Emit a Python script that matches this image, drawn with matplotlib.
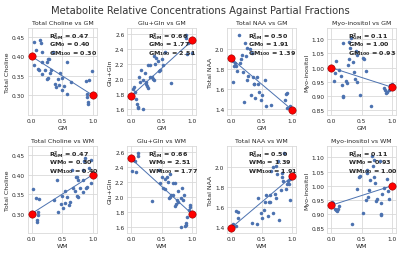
import numpy as np
import matplotlib
matplotlib.use("Agg")
import matplotlib.pyplot as plt

metabolites = ["Total Choline", "Glu+Gln", "Total NAA", "Myo-inositol"]

# GM fractions and concentrations (WM = 1 - GM)
cho_gm = [.03, .04, .075, .10, .115, .13, .155, .17, .16, .17, .22, .25, .26, .28, .25, .27, .29, .32, .35,
          .38, .40, .43, .45, .46, .49, .50, .52, .57, .58, .64, .88, .98, .925, .90, .90, .91, .91, .965]
cho_y = [.379, .436, .416, .369, .366, .442, .434, .411, .387, .354, .366, .387, .393, .393, .342, .346, .358,
         .366, .411, .330, .321, .342, .327, .358, .313, .346, .324, .305, .387, .334, .338, .362, .340, .305,
         .296, .283, .279, .302]

glu_gm = [.03, .045, .06, .085, .10, .11, .12, .14, .15, .17, .19, .19, .23, .24, .25, .27, .28, .28, .31, .31,
          .34, .36, .37, .38, .40, .41, .44, .45, .48, .50, .53, .55, .65, .89, .89, .92, .93, .96, .99]
glu_y = [1.86, 1.89, 1.82, 1.73, 1.66, 1.63, 1.61, 2.03, 1.96, 2.12, 1.98, 1.60, 2.08, 1.93, 1.96, 1.90, 1.88,
         2.18, 2.18, 2.03, 2.03, 2.00, 2.30, 1.98, 2.20, 2.27, 2.24, 2.11, 2.12, 2.26, 2.19, 2.36, 1.94, 2.54,
         2.58, 2.33, 2.47, 2.49, 2.34]

naa_gm = [.02, .035, .05, .035, .075, .09, .105, .135, .15, .165, .175, .19, .22, .235, .25, .27, .28, .27, .31,
          .32, .34, .36, .37, .38, .40, .43, .44, .46, .49, .51, .56, .57, .65, .89, .91, .88, .91, .965, .98]
naa_y = [1.90, 1.88, 1.83, 1.67, 1.86, 1.83, 1.78, 2.14, 1.86, 1.90, 1.94, 1.77, 1.47, 2.06, 1.93, 2.01, 1.73,
         1.69, 2.00, 1.54, 1.96, 1.72, 1.65, 1.65, 1.51, 1.72, 1.65, 1.57, 1.49, 1.54, 1.69, 1.43, 1.44, 1.55,
         1.56, 1.49, 1.41, 1.43, 1.41]

myo_gm = [.05, .075, .09, .13, .16, .18, .19, .19, .20, .25, .26, .28, .295, .295, .31, .335, .36, .375, .39,
          .41, .42, .43, .47, .53, .54, .57, .65, .87, .885, .90, .91, .94, .97, .99, .97]
myo_y = [.954, .980, 1.025, .990, .970, .940, .900, .896, 1.086, .954, .945, 1.008, 1.029, 1.092, 1.069, 1.105,
         1.019, .986, .959, 1.057, 1.046, .948, .904, 1.034, 1.031, .988, .864, .927, .919, .911, .913, .919,
         .939, .942, .931]

# fitted endpoints (GM=0, GM=100) and R^2 as annotated
gm0 = [0.40, 1.77, 1.91, 1.00]
gm100 = [0.30, 2.51, 1.39, 0.93]
r2 = [0.47, 0.66, 0.50, 0.11]

ylims = [(0.25, 0.472), (1.52, 2.67), (1.34, 2.21), (0.832, 1.139)]
yticks = [[0.30, 0.35, 0.40, 0.45], [1.6, 1.8, 2.0, 2.2, 2.4, 2.6], [1.4, 1.6, 1.8, 2.0],
          [0.85, 0.90, 0.95, 1.00, 1.05, 1.10]]
yfmt = ["%.2f", "%.1f", "%.1f", "%.2f"]

gm_data = [cho_gm, glu_gm, naa_gm, myo_gm]
y_data = [cho_y, glu_y, naa_y, myo_y]

blue = "#4C72B0"
plt.rcParams.update({
    "font.family": "DejaVu Sans",
    "text.color": "0.15",
    "axes.labelcolor": "0.15",
    "xtick.color": "0.15",
    "ytick.color": "0.15",
})

fig = plt.figure(figsize=(4.0, 2.55), dpi=100)
fig.suptitle("Metabolite Relative Concentrations Against Partial Fractions", fontsize=7.2,
             y=0.975, color="0.2")

lefts = [0.07, 0.318, 0.568, 0.818]
width = 0.172
bottoms = [0.545, 0.082]
height = 0.34

for row, tissue in enumerate(["GM", "WM"]):
    for col, name in enumerate(metabolites):
        ax = fig.add_axes([lefts[col], bottoms[row], width, height])
        x = np.array(gm_data[col]) if tissue == "GM" else 1 - np.array(gm_data[col])
        y = np.array(y_data[col])
        if tissue == "GM":
            e0, e1 = gm0[col], gm100[col]
        else:
            e0, e1 = gm100[col], gm0[col]
        ax.scatter(x, y, s=6.5, color=blue, linewidths=0, zorder=3)
        ax.plot([0, 1], [e0, e1], color=blue, lw=0.7, zorder=2)
        ax.scatter([0, 1], [e0, e1], s=28, color="red", edgecolors="#8b0000", linewidths=0.4, zorder=4)
        ax.set_xlim(-0.06, 1.06)
        ax.set_ylim(*ylims[col])
        ax.set_xticks([0.0, 0.5, 1.0])
        ax.set_xticklabels(["0.0", "0.5", "1.0"])
        ax.set_yticks(yticks[col])
        ax.set_yticklabels([yfmt[col] % v for v in yticks[col]])
        ax.tick_params(labelsize=4.2, length=0, pad=2)
        ax.grid(True, color="0.85", lw=0.6)
        ax.set_axisbelow(True)
        for s in ax.spines.values():
            s.set_color("0.85")
            s.set_linewidth(0.6)
        ax.set_title(f"{name} vs {tissue}", fontsize=4.5, pad=3)
        ax.set_xlabel(tissue, fontsize=4.5, labelpad=1.5)
        ax.set_ylabel(name, fontsize=4.5, labelpad=1.5)
        ax.text(0.3, 0.92, r"$\mathbf{R^2_{GM}}$ = %.2f" % r2[col], transform=ax.transAxes,
                fontsize=4.6, fontweight="bold", va="center", ha="left", zorder=5)
        ax.text(0.3, 0.82, r"$\mathbf{%s_0}$ = %.2f" % (tissue, e0), transform=ax.transAxes,
                fontsize=4.6, fontweight="bold", va="center", ha="left", zorder=5)
        ax.text(0.3, 0.72, r"$\mathbf{%s_{100}}$ = %.2f" % (tissue, e1), transform=ax.transAxes,
                fontsize=4.6, fontweight="bold", va="center", ha="left", zorder=5)

fig.savefig("out.png", dpi=100)
